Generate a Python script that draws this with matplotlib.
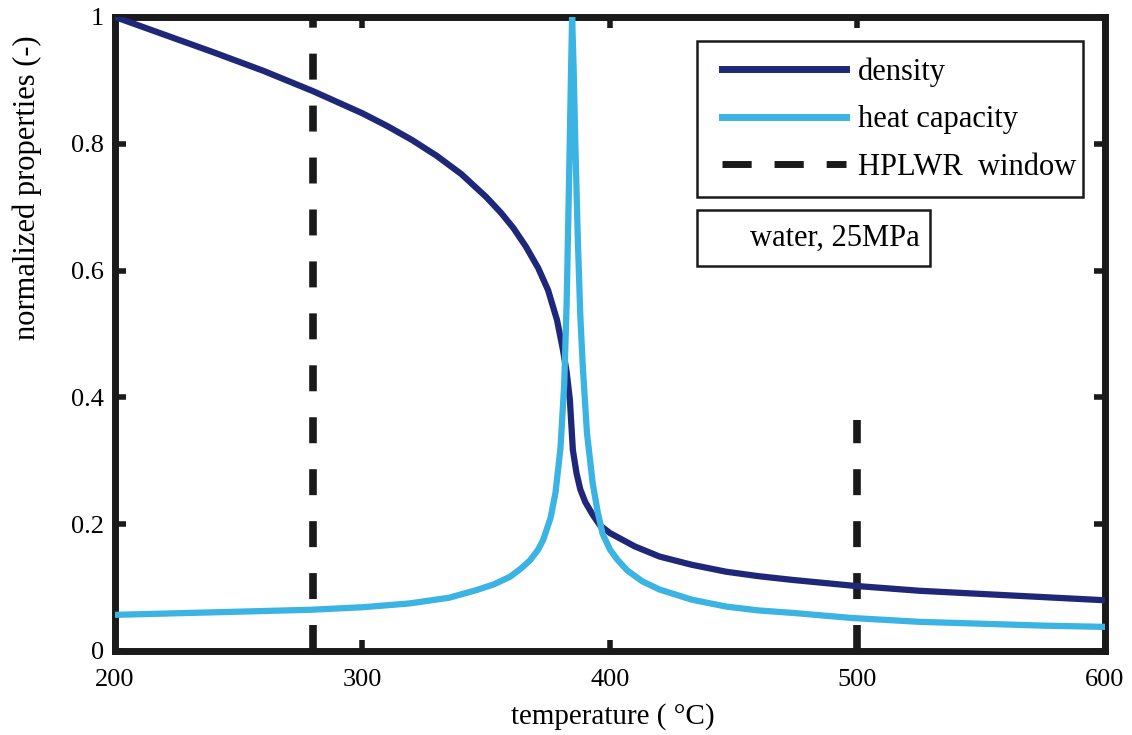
import numpy as np
import matplotlib.pyplot as plt
from matplotlib.lines import Line2D
from matplotlib.patches import Rectangle

plt.rcParams['font.family'] = ['Liberation Serif', 'DejaVu Serif']

# density, normalized
dens_T = [200, 220, 240, 260, 280, 300, 310, 320, 330, 340, 350, 356, 361, 366,
          371, 375, 378.6, 381, 382.5, 383.8, 385, 386.5, 388, 390, 393, 396, 400,
          410, 420, 433, 447, 460, 474, 498, 525, 550, 575, 600]
dens_val = [1.0, 0.972, 0.944, 0.915, 0.883, 0.848, 0.828, 0.806, 0.781, 0.752,
            0.716, 0.691, 0.667, 0.638, 0.604, 0.569, 0.522, 0.475, 0.44, 0.396,
            0.317, 0.28, 0.255, 0.235, 0.215, 0.198, 0.186, 0.165, 0.149, 0.136,
            0.125, 0.118, 0.112, 0.103, 0.095, 0.09, 0.085, 0.08]

# heat capacity, normalized
cp_T = [200, 240, 279, 300, 319, 335, 346, 353, 359.6, 364, 367.7, 371, 373, 376,
        378, 380, 381.5, 382.5, 383.5, 384.2, 384.7, 385.3, 386, 387, 388, 389,
        390.7, 393, 395, 397, 400, 403, 407, 413, 420, 433, 447, 460, 474, 498,
        525, 550, 575, 600]
cp_val = [0.057, 0.061, 0.065, 0.069, 0.075, 0.084, 0.096, 0.105, 0.117, 0.13,
          0.143, 0.16, 0.175, 0.21, 0.25, 0.32, 0.42, 0.55, 0.75, 0.9, 1.0, 0.92,
          0.8, 0.65, 0.53, 0.45, 0.344, 0.265, 0.22, 0.185, 0.16, 0.144, 0.127,
          0.11, 0.097, 0.081, 0.07, 0.064, 0.06, 0.052, 0.046, 0.043, 0.04, 0.038]

# HPLWR window limits
win_T = [280, 500]
win_top = [1.0, 0.365]

navy = '#1f2878'
sky = '#3bb3e3'
blk = '#1a1a1a'

fig = plt.figure(figsize=(11.32, 7.35), dpi=100)
ax = fig.add_axes([0.1016, 0.1143, 0.8745, 0.8626])

ax.plot(dens_T, dens_val, color=navy, lw=4.5, zorder=3, solid_joinstyle='round')
ax.plot(cp_T, cp_val, color=sky, lw=4.5, zorder=4, solid_joinstyle='round')
for t, top in zip(win_T, win_top):
    ax.plot([t, t], [0, top], color=blk, lw=5.5, dashes=(3.4, 3.4),
            dash_capstyle='butt', zorder=2)

ax.set_xlim(200, 600)
ax.set_ylim(0, 1)
ax.set_xticks([200, 300, 400, 500, 600])
ax.set_yticks([0, 0.2, 0.4, 0.6, 0.8, 1])
ax.set_yticklabels(['0', '0.2', '0.4', '0.6', '0.8', '1'])
ax.tick_params(direction='in', length=8, width=4, labelsize=19, top=True, right=True,
               color=blk)
ax.tick_params(axis='x', pad=13)
ax.tick_params(axis='y', pad=8)
for s in ax.spines.values():
    s.set_linewidth(5)
    s.set_color(blk)

fig.text(613 / 1132, 1 - 717 / 735, 'temperature ( °C)', fontsize=21,
         ha='center', va='center')
fig.text(27 / 1132, 1 - 188 / 735, 'normalized properties (-)', fontsize=22,
         rotation=90, ha='center', va='center')

# legend frame drawn by hand so the inner margins match
ax.add_patch(Rectangle((697 / 1132, 1 - 197 / 735), 386 / 1132, 156 / 735,
                       transform=fig.transFigure, fc='white', ec=blk, lw=1.8,
                       zorder=4.5, clip_on=False))
handles = [Line2D([], [], color=navy, lw=5),
           Line2D([], [], color=sky, lw=5),
           Line2D([], [], color=blk, lw=5, dashes=(4.2, 3.3), dash_capstyle='butt')]
labels = ['density', 'heat capacity', 'HPLWR  window']
leg = ax.legend(handles, labels, loc='upper left',
                bbox_to_anchor=(722 / 1132, 1 - 57.5 / 735),
                bbox_transform=fig.transFigure, fontsize=22, handlelength=4.05,
                handletextpad=0.4, borderpad=0, labelspacing=0.6,
                frameon=False, borderaxespad=0)
leg.set_zorder(6)

ax.add_patch(Rectangle((697 / 1132, 1 - 266 / 735), 233 / 1132, 56 / 735,
                       transform=fig.transFigure, fc='white', ec=blk, lw=1.8,
                       zorder=4.5, clip_on=False))
fig.text(750 / 1132, 1 - 238 / 735, 'water, 25MPa', fontsize=22, va='center',
         ha='left')

fig.savefig('out.png', dpi=100)
